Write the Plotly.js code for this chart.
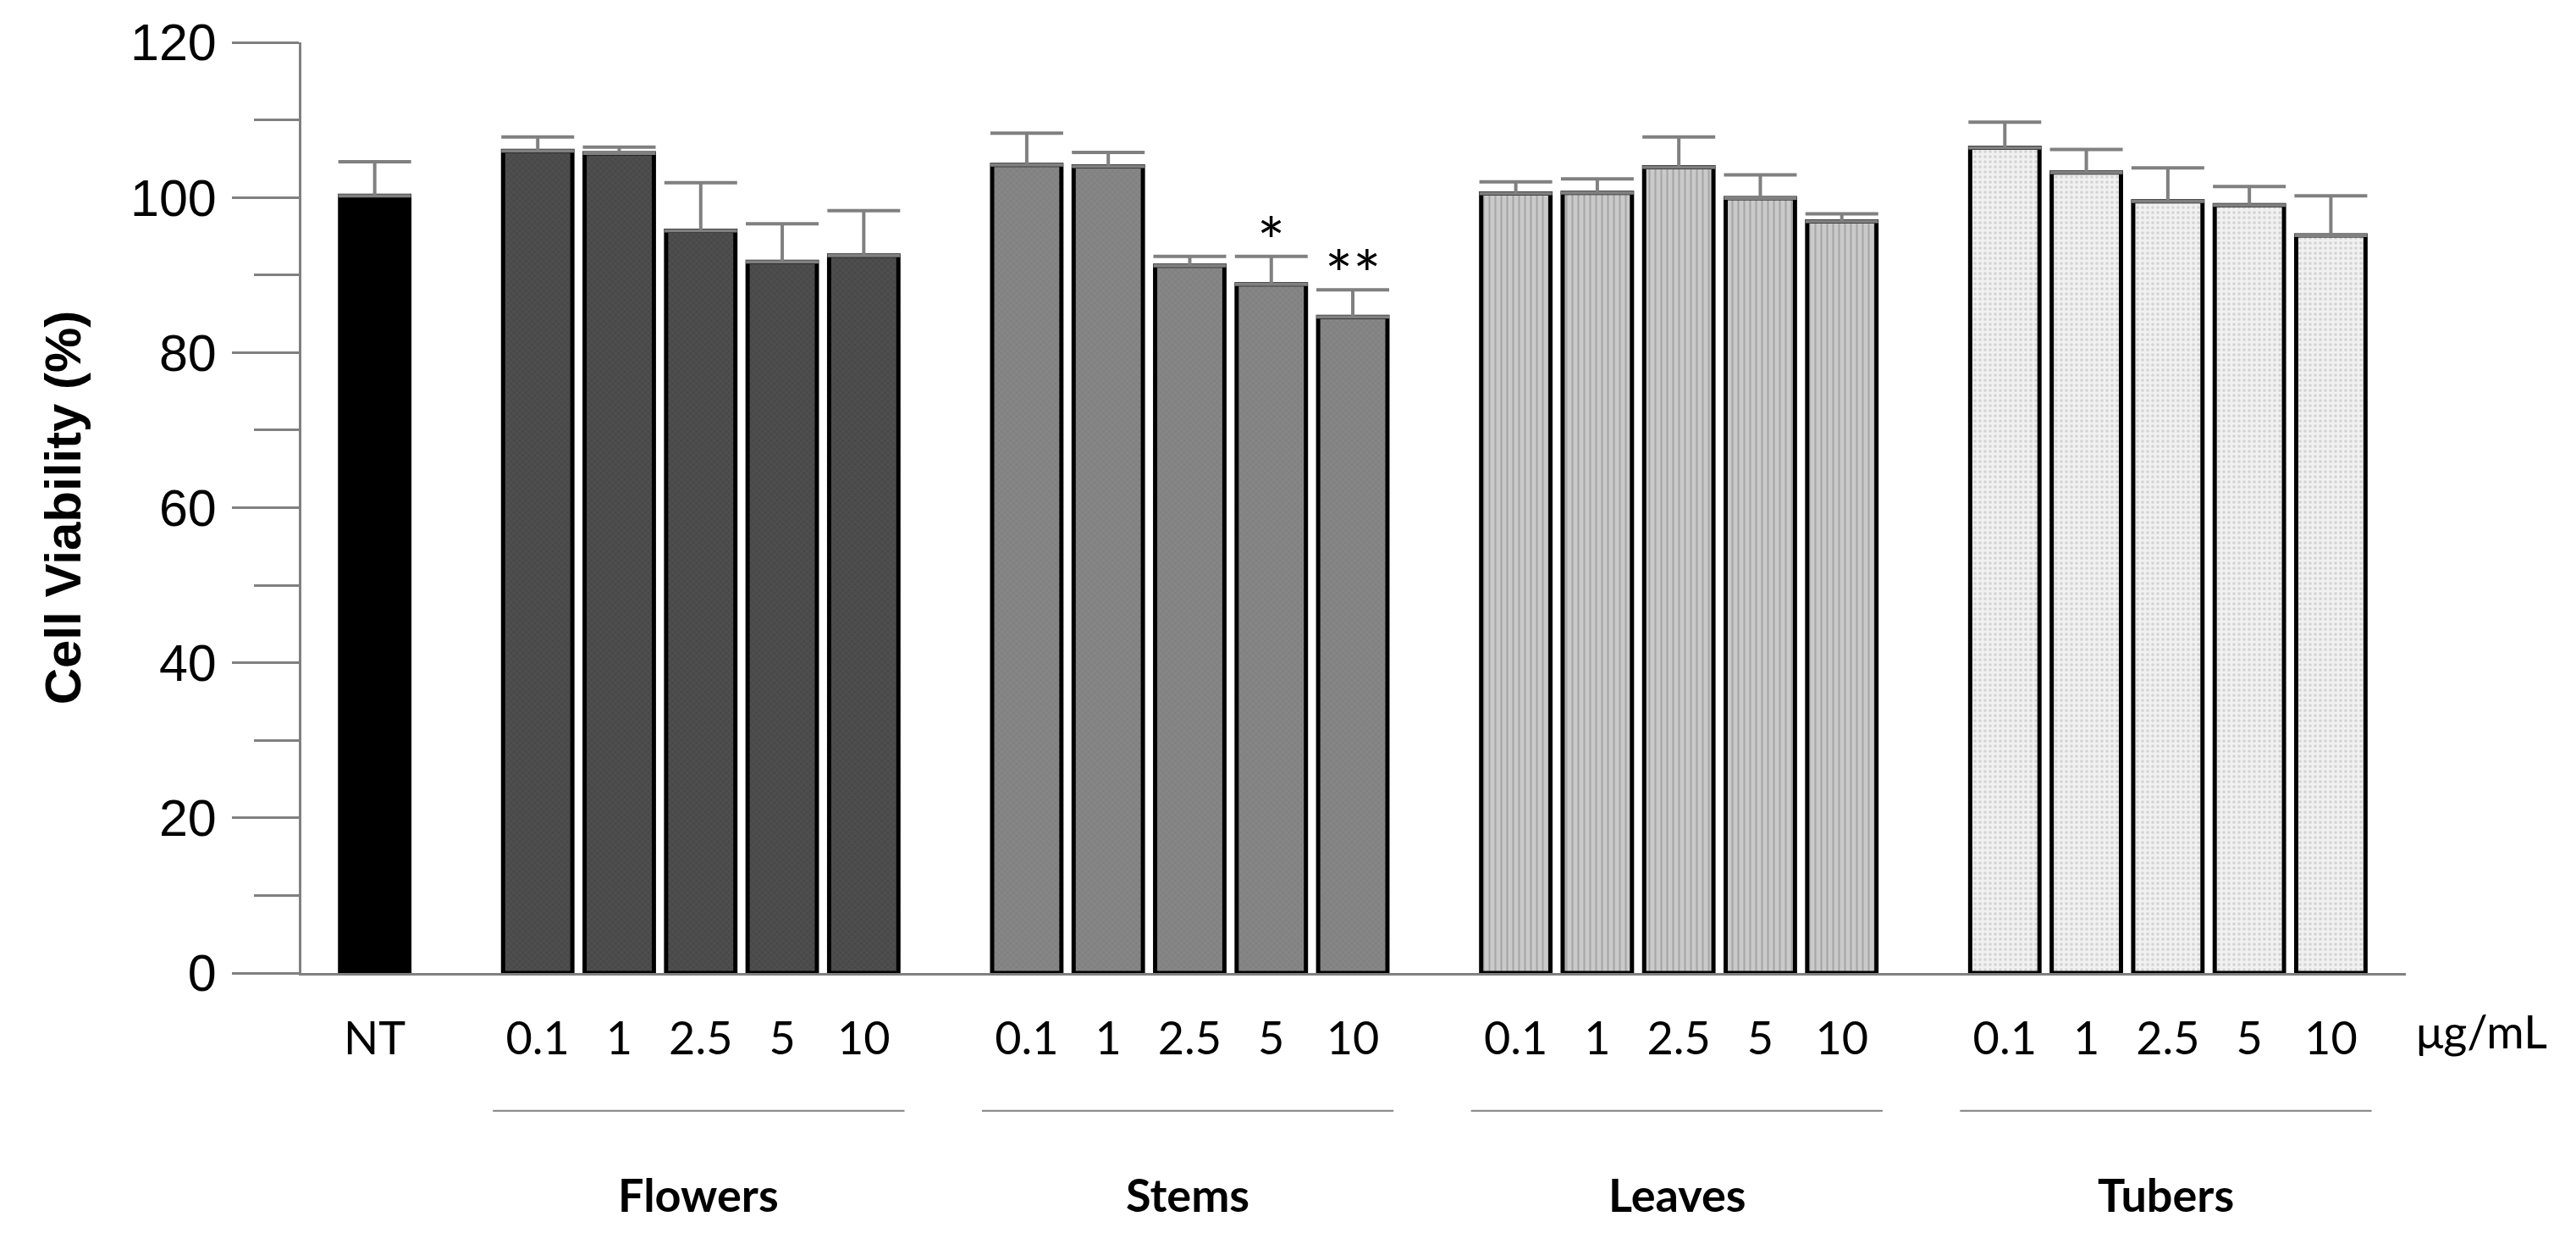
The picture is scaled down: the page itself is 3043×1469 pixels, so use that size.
<!DOCTYPE html>
<html>
<head>
<meta charset="utf-8">
<script src="https://cdn.plot.ly/plotly-3.0.1.min.js"></script>
<style>html,body{margin:0;padding:0;background:#fff;}#chart{width:3043px;height:1469px;}</style>
</head>
<body>
<div id="chart"></div>
<script>
// ---- data ----
const groupNames = ['Flowers', 'Stems', 'Leaves', 'Tubers'];
const concLabels = ['0.1', '1', '2.5', '5', '10'];
const ntLabel = 'NT';
const ntValue = [100.2];
const ntErr = [4.4];
const flowersValues = [106.0, 105.7, 95.7, 91.7, 92.5];
const flowersErr = [1.8, 0.8, 6.2, 4.9, 5.8];
const stemsValues = [104.2, 104.0, 91.2, 88.8, 84.6];
const stemsErr = [4.1, 1.8, 1.2, 3.6, 3.5];
const leavesValues = [100.5, 100.6, 103.9, 99.9, 96.9];
const leavesErr = [1.5, 1.8, 3.9, 3.0, 1.0];
const tubersValues = [106.4, 103.2, 99.5, 99.0, 95.1];
const tubersErr = [3.3, 3.0, 4.3, 2.4, 5.1];
const stemsSig = ['', '', '', '*', '**'];
const unitLabel = 'μg/mL';
const yTitle = 'Cell Viability (%)';
const yTickVals = [0, 20, 40, 60, 80, 100, 120];

// ---- layout helpers ----
const groupValues = [flowersValues, stemsValues, leavesValues, tubersValues];
const groupErrs = [flowersErr, stemsErr, leavesErr, tubersErr];
const groupStart = g => 2 + g * 6;              // NT at slot 0, then a gap slot
const groupX = g => concLabels.map((_, i) => groupStart(g) + i);

const styles = [
  {color: '#484848', pattern: {shape: 'x', fgcolor: '#3c3c3c', bgcolor: '#4e4e4e', size: 5, solidity: 0.2, fillmode: 'replace'}},
  {color: '#808080', pattern: {shape: 'x', fgcolor: '#767676', bgcolor: '#868686', size: 5, solidity: 0.2, fillmode: 'replace'}},
  {color: '#c0c0c0', pattern: {shape: '|', fgcolor: '#a6a6a6', bgcolor: '#cacaca', size: 7, solidity: 0.3, fillmode: 'replace'}},
  {color: '#ededed', pattern: {shape: '.', fgcolor: '#d4d4d4', bgcolor: '#f1f1f1', size: 6, solidity: 0.3, fillmode: 'replace'}}
];

const errStyle = (arr) => ({type: 'data', array: arr, symmetric: false, arrayminus: arr.map(() => 0),
  color: '#808080', thickness: 4, width: 43});

const traces = [];
traces.push({
  type: 'bar', x: [0], y: ntValue, width: 0.85, name: ntLabel,
  marker: {color: '#000000', line: {color: '#000000', width: 5}},
  error_y: errStyle(ntErr), showlegend: false, hoverinfo: 'skip'
});
groupNames.forEach((name, g) => {
  traces.push({
    type: 'bar', x: groupX(g), y: groupValues[g], width: 0.85, name: name,
    marker: {color: styles[g].color, pattern: styles[g].pattern, line: {color: '#000000', width: 5}},
    error_y: errStyle(groupErrs[g]), showlegend: false, hoverinfo: 'skip'
  });
});

const tickVals = [0];
const tickText = [ntLabel];
groupNames.forEach((_, g) => groupX(g).forEach((x, i) => { tickVals.push(x); tickText.push(concLabels[i]); }));

const annotations = [];
const shapes = [];
const labelFont = {family: 'Lato, "Open Sans", sans-serif', size: 54, color: '#000000'};
const sigFont = {family: 'Lato, "Open Sans", sans-serif', size: 78, color: '#000000'};
groupNames.forEach((name, g) => {
  const xs = groupX(g);
  const x0 = xs[0] - 0.55, x1 = xs[xs.length - 1] + 0.5;
  shapes.push({type: 'line', xref: 'x', yref: 'paper', x0: x0, x1: x1, y0: -0.148, y1: -0.148,
    line: {color: '#808080', width: 2}});
  annotations.push({xref: 'x', yref: 'paper', x: (x0 + x1) / 2, y: -0.238, text: '<b>' + name + '</b>',
    showarrow: false, xanchor: 'center', yanchor: 'middle', font: labelFont});
});
stemsSig.forEach((s, i) => {
  if (!s) return;
  annotations.push({xref: 'x', yref: 'y', x: groupX(1)[i], y: stemsValues[i] + stemsErr[i], text: s,
    showarrow: false, xanchor: 'center', yanchor: 'bottom', yshift: -30, font: sigFont});
});
annotations.push({xref: 'paper', yref: 'paper', x: 1.0042, y: -0.062, text: unitLabel, showarrow: false,
  xanchor: 'left', yanchor: 'middle', font: labelFont});

const layout = {
  width: 3043, height: 1469,
  margin: {l: 356, r: 201, t: 50, b: 320},
  paper_bgcolor: '#ffffff', plot_bgcolor: '#ffffff',
  bargap: 0, barmode: 'overlay',
  xaxis: {
    range: [-0.9, 24.92], showgrid: false, zeroline: false,
    showline: true, linecolor: '#808080', linewidth: 3,
    tickmode: 'array', tickvals: tickVals, ticktext: tickText, ticks: '',
    tickfont: labelFont, ticklabelstandoff: 28
  },
  yaxis: {
    range: [0, 120], showgrid: false, zeroline: false,
    showline: true, linecolor: '#808080', linewidth: 3,
    tickmode: 'array', tickvals: yTickVals, ticks: 'outside', ticklen: 79, tickwidth: 3, tickcolor: '#808080',
    tickfont: {family: '"Liberation Sans", Arial, sans-serif', size: 61, color: '#000000'},
    ticklabelstandoff: 6,
    minor: {ticks: 'outside', ticklen: 53, tickwidth: 3, tickcolor: '#808080', dtick: 10, tick0: 0, showgrid: false},
    title: {text: '<b>' + yTitle + '</b>', standoff: 40,
      font: {family: '"Liberation Sans", Arial, sans-serif', size: 60, color: '#000000'}}
  },
  annotations: annotations,
  shapes: shapes,
  showlegend: false
};

Plotly.newPlot('chart', traces, layout, {staticPlot: true, displayModeBar: false});
</script>
</body>
</html>
